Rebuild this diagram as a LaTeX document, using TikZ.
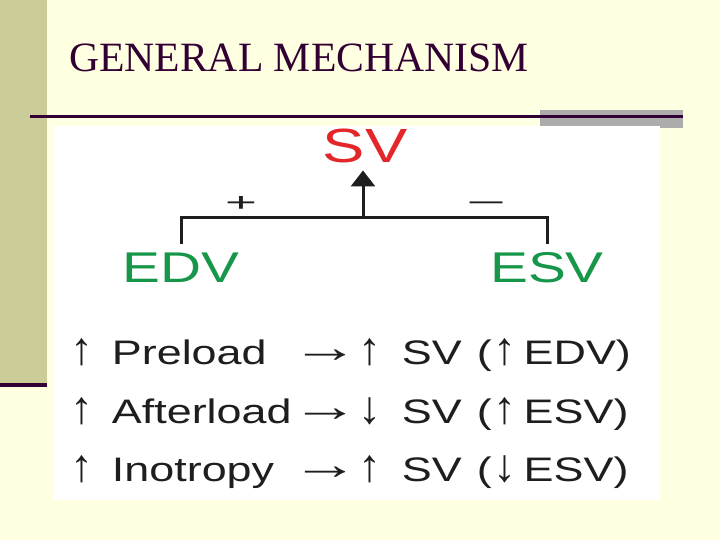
\documentclass[tikz,border=0pt]{standalone}
\usepackage{fontspec}
\setmainfont{Liberation Serif}
\newfontfamily\diagfont[FakeStretch=1.32]{Liberation Sans}
\newfontfamily\arrowfont{Liberation Serif}
\newfontfamily\signfont{Liberation Sans}
\newcommand{\up}{\scalebox{1.35}{\arrowfont ↑}}
\newcommand{\down}{\scalebox{1.35}{\arrowfont ↓}}
\newcommand{\yields}{\scalebox{2}[1.3]{\arrowfont →}}
\usetikzlibrary{arrows.meta}
\definecolor{slidebg}{RGB}{255,255,225}
\definecolor{sidebar}{RGB}{204,204,153}
\definecolor{plum}{RGB}{51,0,51}
\definecolor{bargray}{RGB}{172,172,172}
\definecolor{svred}{RGB}{226,38,42}
\definecolor{volgreen}{RGB}{22,150,72}
\definecolor{ink}{RGB}{30,30,30}
\begin{document}
\begin{tikzpicture}[x=1pt,y=-1pt,
  volume/.style={inner sep=0pt,outer sep=0pt,anchor=base,text=volgreen,font=\diagfont\fontsize{43}{48}\selectfont},
  rowtext/.style={inner sep=0pt,outer sep=0pt,anchor=base west,text=ink,font=\diagfont\fontsize{34}{40}\selectfont},
  bracket/.style={draw=ink,line width=3pt},
  sign/.style={inner sep=0pt,outer sep=0pt,text=ink,font=\signfont\fontsize{26}{26}\selectfont}]
\path[use as bounding box] (0,0) rectangle (720,540);
\fill[slidebg] (0,0) rectangle (720,540);
\fill[sidebar] (0,0) rectangle (47,384);
\draw[plum,line width=4pt] (0,385) -- (47,385);
\fill[bargray] (540,110) rectangle (683,128);
\node[inner sep=0pt,outer sep=0pt,anchor=base west,text=plum,font=\fontsize{41.7}{48}\selectfont] (title) at (69,72) {GENERAL MECHANISM};
\draw[plum,line width=3pt] (30,117) -- (683,117);
\fill[white] (53,126) rectangle (660,500);
% stroke volume and its two determinants
\node[inner sep=0pt,outer sep=0pt,anchor=base,text=svred,font=\diagfont\fontsize{48}{52}\selectfont] (sv) at (365,163) {SV};
\node[volume] (edv) at (181,282) {EDV};
\node[volume] (esv) at (547,282) {ESV};
\coordinate (stem) at (363,218);
\draw[bracket] ([yshift=8pt]edv.north) |- (stem) -| ([yshift=8pt]esv.north);
\draw[bracket,-{Triangle[width=24pt,length=16pt]},shorten >=7pt] (stem) -- (stem |- sv.south);
\node[sign] (plus) at (241,204) {\scalebox{2.1}[1]{+}};
\node[sign] (minus) at (486,207) {\scalebox{2.6}[1]{−}};
% effects
\node[rowtext] (preload) at (70,364) {\up\hspace{19pt}Preload};
\node[rowtext] (preload to) at (291,362) {\yields};
\node[rowtext] (preload sv) at (358,364) {\up\hspace{21pt}SV\hspace{15pt}(\hspace{2pt}\up\hspace{7pt}EDV)};
\node[rowtext] (afterload) at (70,423) {\up\hspace{19pt}Afterload};
\node[rowtext] (afterload to) at (291,421) {\yields};
\node[rowtext] (afterload sv) at (358,423) {\down\hspace{21pt}SV\hspace{15pt}(\hspace{2pt}\up\hspace{7pt}ESV)};
\node[rowtext] (inotropy) at (70,481) {\up\hspace{19pt}Inotropy};
\node[rowtext] (inotropy to) at (291,479) {\yields};
\node[rowtext] (inotropy sv) at (358,481) {\up\hspace{21pt}SV\hspace{15pt}(\hspace{2pt}\down\hspace{7pt}ESV)};
\end{tikzpicture}
\end{document}
